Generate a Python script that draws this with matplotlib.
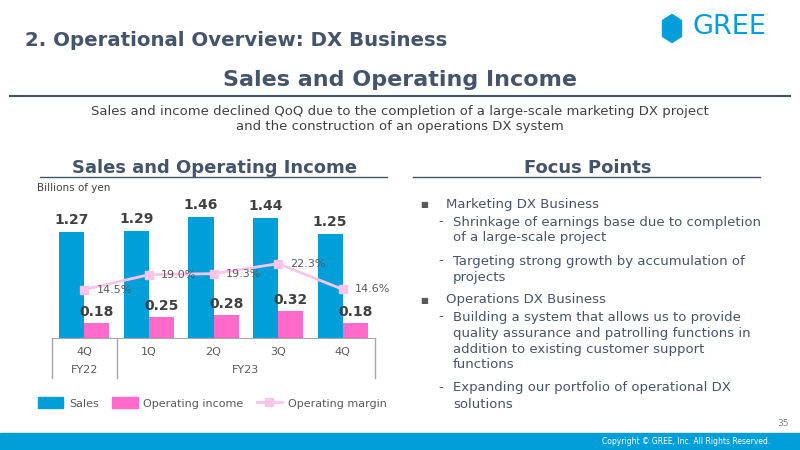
import numpy as np
import matplotlib.pyplot as plt
from matplotlib.patches import Rectangle, Polygon, Patch
from matplotlib.lines import Line2D

quarters = ['4Q', '1Q', '2Q', '3Q', '4Q']
fiscal_years = ['FY22', 'FY23']
fy_spans = [(0, 0), (1, 4)]
sales = [1.27, 1.29, 1.46, 1.44, 1.25]
op_income = [0.18, 0.25, 0.28, 0.32, 0.18]
op_margin = [14.5, 19.0, 19.3, 22.3, 14.6]

focus_items = [
    ('bullet', ['Marketing DX Business']),
    ('dash', ['Shrinkage of earnings base due to completion', 'of a large-scale project']),
    ('dash', ['Targeting strong growth by accumulation of', 'projects']),
    ('bullet', ['Operations DX Business']),
    ('dash', ['Building a system that allows us to provide',
              'quality assurance and patrolling functions in',
              'addition to existing customer support', 'functions']),
    ('dash', ['Expanding our portfolio of operational DX', 'solutions']),
]

BLUE = '#009FDA'
PINK = '#FF6ACB'
LIGHT_PINK = '#FFC4EA'
SLATE = '#44546A'
DARK = '#404040'
GRAY = '#595959'

W, H = 800, 450
fig = plt.figure(figsize=(8, 4.5), dpi=100)


def fx(px):
    return px / W


def fy(py):
    return 1 - py / H


# header
fig.text(fx(25), fy(41), '2. Operational Overview: DX Business', weight='bold',
         fontsize=14.2, color=SLATE, va='center', ha='left')

# logo, drawn in a pixel-unit axes
lax = fig.add_axes([fx(655), fy(50), fx(35), 40 / H])
lax.set_xlim(655, 690)
lax.set_ylim(50, 10)
lax.axis('off')
lax.add_patch(Polygon([(672, 14.5), (681.5, 20.5), (681.5, 36.5), (672, 42.5),
                       (662.5, 36.5), (662.5, 20.5)], closed=True, color=BLUE,
                      joinstyle='round', lw=1))
fig.text(fx(692), fy(27), 'GREE', fontsize=19.5, color=BLUE, va='center', ha='left')

fig.text(0.5, fy(80), 'Sales and Operating Income', weight='bold',
         fontsize=16, color=SLATE, ha='center', va='center')
fig.add_artist(Line2D([fx(10), fx(790)], [fy(96), fy(96)], color=SLATE, lw=1.5))
fig.text(0.5, fy(111), 'Sales and income declined QoQ due to the completion of a large-scale marketing DX project',
         fontsize=9.5, color=DARK, ha='center', va='center')
fig.text(0.5, fy(127), 'and the construction of an operations DX system',
         fontsize=9.5, color=DARK, ha='center', va='center')

# section titles
fig.text(fx(214), fy(168), 'Sales and Operating Income', weight='bold', fontsize=13,
         color=SLATE, ha='center', va='center')
fig.add_artist(Line2D([fx(40), fx(387)], [fy(177), fy(177)], color=SLATE, lw=1))
fig.text(fx(588), fy(168), 'Focus Points', weight='bold', fontsize=13,
         color=SLATE, ha='center', va='center')
fig.add_artist(Line2D([fx(413), fx(760)], [fy(177), fy(177)], color=SLATE, lw=1))

fig.text(fx(37), fy(188), 'Billions of yen', fontsize=7.5, color=DARK, va='center')

# chart
ax = fig.add_axes([fx(52), fy(338), fx(323), (338 - 190) / H])
x = np.arange(len(quarters))
w = 0.39
ax.bar(x - 0.195, sales, w, color=BLUE, zorder=2)
ax.bar(x + 0.195, op_income, w, color=PINK, zorder=2)
for xi, v in zip(x, sales):
    ax.text(xi - 0.195, v + 0.06, f'{v:.2f}', ha='center', va='bottom',
            fontsize=10, weight='bold', color=DARK)
for xi, v in zip(x, op_income):
    ax.text(xi + 0.195, v + 0.05, f'{v:.2f}', ha='center', va='bottom',
            fontsize=10, weight='bold', color=DARK)
ax.set_xlim(-0.5, 4.5)
ax.set_ylim(0, 1.78)
ax.set_xticks([])
ax.set_yticks([])
for s in ['top', 'left', 'right']:
    ax.spines[s].set_visible(False)
ax.spines['bottom'].set_color('#A6A6A6')

ax2 = ax.twinx()
ax2.plot(x, op_margin, color=LIGHT_PINK, lw=2, marker='s', ms=6, zorder=3)
for xi, v in zip(x, op_margin):
    ax2.text(xi + 0.19, v, f'{v:.1f}%', ha='left', va='center', fontsize=8, color=GRAY)
ax2.set_ylim(0, 44.4)
ax2.axis('off')

# category table below axis
trans = ax.get_xaxis_transform()
for xv in [-0.5, 0.5, 4.5]:
    ax.plot([xv, xv], [0, -0.27], color='#A6A6A6', lw=1, transform=trans, clip_on=False)
for xi, q in zip(x, quarters):
    ax.text(xi, -0.095, q, transform=trans, ha='center', va='center', fontsize=8, color=GRAY)
for fyl, (a, b) in zip(fiscal_years, fy_spans):
    ax.text((a + b) / 2, -0.215, fyl, transform=trans, ha='center', va='center',
            fontsize=8, color=GRAY)

handles = [Patch(color=BLUE), Patch(color=PINK),
           Line2D([], [], color=LIGHT_PINK, lw=2, marker='s', ms=6)]
fig.legend(handles, ['Sales', 'Operating income', 'Operating margin'], ncol=3,
           loc='center left', bbox_to_anchor=(fx(30), fy(403)), frameon=False,
           fontsize=8, labelcolor=GRAY, handlelength=2.3, handleheight=1.1,
           columnspacing=1.2, handletextpad=0.5, borderpad=0.2)

# focus points
ypos = 205
for kind, lines in focus_items:
    if kind == 'bullet':
        fig.text(fx(424), fy(ypos), '■', fontsize=6, color=GRAY, va='center', ha='center')
        fig.text(fx(446), fy(ypos), lines[0], fontsize=9.5, color=SLATE, va='center')
        ypos += 17
    else:
        fig.text(fx(441), fy(ypos), '-', fontsize=9.5, color=SLATE, va='center', ha='center')
        for i, line in enumerate(lines):
            fig.text(fx(453), fy(ypos + 16 * i), line, fontsize=9.5, color=SLATE, va='center')
        ypos += 16 * (len(lines) - 1) + 23

# footer
fig.text(fx(789), fy(424), '35', fontsize=6.5, color='#808080', ha='right', va='center')
fig.patches.append(Rectangle((0, 0), 1, fy(433), color=BLUE,
                             transform=fig.transFigure, figure=fig))
fig.text(fx(770), fy(441), 'Copyright © GREE, Inc. All Rights Reserved.', fontsize=5.5,
         color='white', ha='right', va='center')

fig.savefig('out.png', dpi=100)
